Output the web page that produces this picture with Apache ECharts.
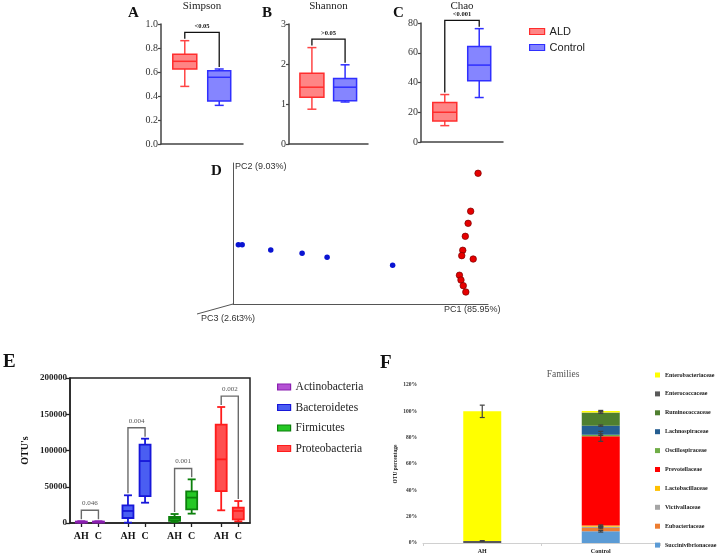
<!DOCTYPE html>
<html><head><meta charset="utf-8">
<script src="https://cdn.jsdelivr.net/npm/echarts@6/dist/echarts.min.js"></script>
<style>html,body{margin:0;padding:0;background:#fff}#c{width:721px;height:554px}</style>
</head><body><div id="c"></div>
<script>
// ---------- A-C alpha diversity: [min, Q1, median, Q3, max] ----------
const groups = ['ALD', 'Control'];
const simpsonALD = [0.48, 0.625, 0.689, 0.747, 0.861];
const simpsonControl = [0.322, 0.358, 0.556, 0.61, 0.625];
const shannonALD = [0.87, 1.17, 1.42, 1.77, 2.41];
const shannonControl = [1.05, 1.08, 1.42, 1.64, 1.98];
const chaoALD = [11, 14.2, 20, 26.5, 31.9];
const chaoControl = [29.9, 41.1, 51.7, 64.2, 76.2];
const alphaP = ['<0.05', '>0.05', '<0.001'];
const alphaTitles = ['Simpson', 'Shannon', 'Chao'];

// ---------- D PCoA ----------
const pcoaControl = [[2.1,42.1],[3.6,42.1],[14.8,38.3],[27.1,36.0],[36.9,33.1],[62.6,27.4]];
const pcoaALD = [[96.1,92.7],[93.2,65.8],[92.2,57.2],[91.1,48.0],[90.1,38.1],[89.7,34.3],[94.2,31.9],[88.8,20.4],[89.4,17.0],[90.3,13.0],[91.3,8.5]];
const pcLabels = ['PC1 (85.95%)', 'PC2 (9.03%)', 'PC3 (2.6t3%)'];

// ---------- E phyla OTUs: [min, Q1, median, Q3, max] ----------
const phyla = ['Actinobacteria','Bacteroidetes','Firmicutes','Proteobacteria'];
const phylumGroups = ['AH', 'C'];
const otuAH = [[500,1000,1500,2000,2500],[500,6900,16600,24400,38200],[1400,2800,6000,8300,12400],[17500,44100,87800,135600,160000]];
const otuC = [[800,1200,1600,2000,2400],[28000,37200,85500,108000,116300],[12900,18900,35000,43700,60200],[2300,5000,16600,21100,30300]];
const phylaP = ['0.046','0.004','0.001','0.002'];

// ---------- F families (stack order bottom -> top), percentages ----------
const famGroups = ['AH', 'Control'];
const families = ['Succinivibrionaceae','Eubacteriaceae','Victivallaceae','Lactobacillaceae','Prevotellaceae','Oscillospiraceae','Lachnospiraceae','Ruminococcaceae','Enterococcaceae','Enterobacteriaceae'];
const famAH = [0,0,0,0,0,0,0,0,1.5,98.5];
const famControl = [8.9,2.5,1.0,0.8,67.8,1.3,6.8,9.9,0.2,1.0];
const famErrAH = [0,0,0,0,0,0,0,0,0.3,4.7];
const famErrControl = [0.6,0.6,0.4,0.5,3.8,0.6,0.5,0.6,0,0.5];

// ---------- styling ----------
const SERIF = 'Liberation Serif', SANS = 'Liberation Sans';
const famColors = ['#5b9bd5','#ed7d31','#a5a5a5','#ffc000','#ff0000','#70ad47','#255e91','#4f7f2f','#595959','#ffff00'];
const groupStyle = {
  ALD: {stroke:'#ff2d2d', fill:'#ff8585', whisker:'#ff4545', boxW:24, capW:9, lw:1.5},
  Control: {stroke:'#2f2fff', fill:'#8585ff', whisker:'#2f2fff', boxW:23, capW:9, lw:1.5}
};
const phylaStyle = [
  {stroke:'#8a1fb0', fill:'#b452d4', whisker:'#8a1fb0', boxW:11, capW:8, lw:1.8},
  {stroke:'#1717d9', fill:'#4a5ef2', whisker:'#1717d9', boxW:11, capW:8, lw:1.8},
  {stroke:'#0c800c', fill:'#25c825', whisker:'#0c800c', boxW:11, capW:8, lw:1.8},
  {stroke:'#ff1c1c', fill:'#ff4f4f', whisker:'#ff1c1c', boxW:11, capW:8, lw:1.8}
];

function boxItem(st) {
  return function (params, api) {
    const x = api.value(0);
    const c = k => api.coord([x, api.value(k)]);
    const pMin = c(1), pQ1 = c(2), pMed = c(3), pQ3 = c(4), pMax = c(5);
    const cx = pMin[0], hw = st.boxW / 2, cw = st.capW / 2;
    const ws = {stroke: st.whisker, lineWidth: st.lw};
    return {type: 'group', children: [
      {type:'line', shape:{x1:cx,y1:pMax[1],x2:cx,y2:pQ3[1]}, style:ws},
      {type:'line', shape:{x1:cx,y1:pQ1[1],x2:cx,y2:pMin[1]}, style:ws},
      {type:'line', shape:{x1:cx-cw,y1:pMax[1],x2:cx+cw,y2:pMax[1]}, style:ws},
      {type:'line', shape:{x1:cx-cw,y1:pMin[1],x2:cx+cw,y2:pMin[1]}, style:ws},
      {type:'rect', shape:{x:cx-hw,y:pQ3[1],width:2*hw,height:Math.max(pQ1[1]-pQ3[1],1)}, style:{fill:st.fill, stroke:st.stroke, lineWidth:st.lw}},
      {type:'line', shape:{x1:cx-hw,y1:pMed[1],x2:cx+hw,y2:pMed[1]}, style:{stroke:st.stroke, lineWidth:st.lw}}
    ]};
  };
}
function bracketItem(labels, opt) {
  return function (params, api) {
    const x1 = api.value(0), x2 = api.value(1);
    const t1 = api.coord([x1, api.value(2)]), l = api.coord([x1, api.value(3)]);
    const t2 = api.coord([x2, api.value(2)]), r = api.coord([x2, api.value(4)]);
    return {type:'group', children:[
      {type:'polyline', shape:{points:[[l[0], l[1]-opt.pad],[t1[0],t1[1]],[t2[0],t2[1]],[r[0], r[1]-opt.pad]]}, style:{stroke:opt.color, lineWidth:opt.lw, fill:null}},
      {type:'text', x:(t1[0]+t2[0])/2, y:t1[1]-opt.dy, style:{text:labels[params.dataIndex], fill:opt.textColor, font:opt.font, align:'center', verticalAlign:'middle'}}
    ]};
  };
}

const grids = [], xAxes = [], yAxes = [], series = [], graphics = [];

// ----- A, B, C -----
const alphaData = [[simpsonALD, simpsonControl], [shannonALD, shannonControl], [chaoALD, chaoControl]];
const alphaAxis = [{max:1, interval:0.2, dec:1}, {max:3, interval:1, dec:0}, {max:80, interval:20, dec:0}];
const alphaGrid = [{left:161, top:24, width:82, height:120}, {left:289, top:24, width:79, height:120}, {left:421, top:23, width:82, height:119}];
const alphaLetters = ['A', 'B', 'C'], letterX = [128, 262, 393];
const boxPos = [0.29, 0.71];
alphaData.forEach((pair, i) => {
  const g = alphaGrid[i], ax = alphaAxis[i];
  grids.push(g);
  xAxes.push({gridIndex:i, type:'value', min:0, max:1, axisLine:{show:true, onZero:false, lineStyle:{color:'#444', width:1.5}}, axisTick:{show:false}, axisLabel:{show:false}, splitLine:{show:false}});
  yAxes.push({gridIndex:i, type:'value', min:0, max:ax.max, interval:ax.interval,
    axisLine:{show:true, lineStyle:{color:'#444', width:1.5}}, axisTick:{show:true, length:3, lineStyle:{color:'#444', width:1.2}},
    axisLabel:{formatter:v => v.toFixed(ax.dec), fontFamily:SERIF, fontSize:10, color:'#333', margin:3}, splitLine:{show:false}});
  groups.forEach((gname, k) => {
    series.push({type:'custom', name:gname, xAxisIndex:i, yAxisIndex:i, renderItem:boxItem(groupStyle[gname]),
      itemStyle:{color:groupStyle[gname].fill, borderColor:groupStyle[gname].stroke},
      encode:{x:0, y:[1,2,3,4,5]}, data:[[boxPos[k], ...pair[k]]], z:3});
  });
  const top = Math.max(pair[0][4], pair[1][4]) + 0.07 * ax.max;
  series.push({type:'custom', name:'bracket'+i, xAxisIndex:i, yAxisIndex:i,
    renderItem:bracketItem([alphaP[i]], {pad:2, color:'#111', lw:1.3, textColor:'#111', font:'bold 6.5px ' + SERIF, dy:6}),
    encode:{x:[0,1], y:[2,3,4]}, data:[[boxPos[0], boxPos[1], top, pair[0][4], pair[1][4]]], silent:true, z:4});
  graphics.push({type:'text', x:g.left + g.width/2, y:6, style:{text:alphaTitles[i], font:'11px ' + SERIF, fill:'#222', align:'center', verticalAlign:'middle'}});
  graphics.push({type:'text', x:letterX[i], y:13, style:{text:alphaLetters[i], font:'bold 15px ' + SERIF, fill:'#111', verticalAlign:'middle'}});
});

// ----- D -----
grids.push({left:233, top:163, width:255, height:141});
xAxes.push({gridIndex:3, type:'value', min:0, max:100, axisLine:{show:true, lineStyle:{color:'#555', width:1}}, axisTick:{show:false}, axisLabel:{show:false}, splitLine:{show:false}});
yAxes.push({gridIndex:3, type:'value', min:0, max:100, axisLine:{show:true, lineStyle:{color:'#555', width:1}}, axisTick:{show:false}, axisLabel:{show:false}, splitLine:{show:false}});
series.push({type:'scatter', name:'PCoA Control', xAxisIndex:3, yAxisIndex:3, data:pcoaControl, symbolSize:5.5, itemStyle:{color:'#0a14d2', opacity:1}});
series.push({type:'scatter', name:'PCoA ALD', xAxisIndex:3, yAxisIndex:3, data:pcoaALD, symbolSize:6.5, itemStyle:{color:'#e60000', borderColor:'#7a0000', borderWidth:0.7, opacity:1}});
graphics.push({type:'line', shape:{x1:233, y1:304, x2:197, y2:314}, style:{stroke:'#555', lineWidth:1}});
graphics.push({type:'text', x:235, y:167, style:{text:pcLabels[1], font:'9px ' + SANS, fill:'#333', verticalAlign:'middle'}});
graphics.push({type:'text', x:444, y:310, style:{text:pcLabels[0], font:'9px ' + SANS, fill:'#333', verticalAlign:'middle'}});
graphics.push({type:'text', x:201, y:319, style:{text:pcLabels[2], font:'9px ' + SANS, fill:'#333', verticalAlign:'middle'}});
graphics.push({type:'text', x:211, y:171, style:{text:'D', font:'bold 15px ' + SERIF, fill:'#111', verticalAlign:'middle'}});

// ----- E -----
const ePos = [];
phyla.forEach((p, i) => { const a = 0.063 + 0.259 * i; ePos.push(a, a + 0.095); });
grids.push({left:70, top:378, width:180, height:145, show:true, borderColor:'#222', borderWidth:1.5});
xAxes.push({gridIndex:4, type:'value', min:0, max:1,
  axisLine:{show:true, lineStyle:{color:'#222', width:1.5}},
  axisTick:{show:true, customValues:ePos, length:4, lineStyle:{color:'#222', width:1.3}},
  axisLabel:{show:true, customValues:ePos, fontFamily:SERIF, fontWeight:'bold', fontSize:10, color:'#111', margin:8,
    formatter:v => { let b = 0; ePos.forEach((p, j) => { if (Math.abs(p - v) < Math.abs(ePos[b] - v)) b = j; }); return phylumGroups[b % 2]; }},
  splitLine:{show:false}});
yAxes.push({gridIndex:4, type:'value', min:0, max:200000, interval:50000,
  name:"OTU's", nameLocation:'middle', nameGap:40, nameRotate:90, nameTextStyle:{fontFamily:SERIF, fontWeight:'bold', fontSize:10, color:'#111'},
  axisLine:{show:true, lineStyle:{color:'#222', width:1.5}}, axisTick:{show:true, length:4, lineStyle:{color:'#222', width:1.3}},
  axisLabel:{formatter:v => String(v), fontFamily:SERIF, fontWeight:'bold', fontSize:9, color:'#222', margin:3}, splitLine:{show:false}});
phyla.forEach((p, i) => {
  series.push({type:'custom', name:p, xAxisIndex:4, yAxisIndex:4, renderItem:boxItem(phylaStyle[i]),
    itemStyle:{color:phylaStyle[i].fill, borderColor:phylaStyle[i].stroke},
    encode:{x:0, y:[1,2,3,4,5]}, data:[[ePos[2*i], ...otuAH[i]], [ePos[2*i+1], ...otuC[i]]], z:3});
});
series.push({type:'custom', name:'bracketE', xAxisIndex:4, yAxisIndex:4,
  renderItem:bracketItem(phylaP, {pad:2, color:'#6a6a6a', lw:1.4, textColor:'#555', font:'7px ' + SERIF, dy:7}),
  encode:{x:[0,1], y:[2,3,4]}, silent:true, z:4,
  data:phyla.map((p, i) => [ePos[2*i], ePos[2*i+1], Math.max(otuAH[i][4], otuC[i][4]) + 15000, otuAH[i][4], otuC[i][4]])});
graphics.push({type:'text', x:3, y:362, style:{text:'E', font:'bold 19px ' + SERIF, fill:'#111', verticalAlign:'middle'}});

// ----- F -----
grids.push({left:423, top:385, width:237, height:159});
xAxes.push({gridIndex:5, type:'category', data:famGroups,
  axisLine:{show:true, lineStyle:{color:'#d0d0d0', width:1}}, axisTick:{show:true, length:3, lineStyle:{color:'#d0d0d0'}},
  axisLabel:{fontFamily:SERIF, fontWeight:'bold', fontSize:6, color:'#222', margin:5}});
yAxes.push({gridIndex:5, type:'value', min:0, max:120, interval:20,
  name:'OTU percentage', nameLocation:'middle', nameGap:24, nameRotate:90, nameTextStyle:{fontFamily:SERIF, fontWeight:'bold', fontSize:5.5, color:'#222'},
  axisLine:{show:false}, axisTick:{show:false}, splitLine:{show:false},
  axisLabel:{formatter:'{value}%', fontFamily:SERIF, fontWeight:'bold', fontSize:5.5, color:'#333', margin:6}});
families.forEach((f, i) => {
  series.push({type:'bar', name:f, xAxisIndex:5, yAxisIndex:5, stack:'fam', barWidth:38, data:[famAH[i], famControl[i]], itemStyle:{color:famColors[i]}});
});
const errData = [];
[famAH, famControl].forEach((vals, g) => {
  const errs = g === 0 ? famErrAH : famErrControl;
  let cum = 0;
  vals.forEach((v, i) => { cum += v; if (errs[i] > 0) errData.push([g, cum, errs[i]]); });
});
series.push({type:'custom', name:'errorF', xAxisIndex:5, yAxisIndex:5, silent:true, z:5, encode:{x:0, y:1},
  renderItem:(params, api) => {
    const g = api.value(0), v = api.value(1), e = api.value(2);
    const hi = api.coord([g, v + e]), lo = api.coord([g, v - e]);
    const s = {stroke:'#404040', lineWidth:1.2};
    return {type:'group', children:[
      {type:'line', shape:{x1:hi[0], y1:hi[1], x2:lo[0], y2:lo[1]}, style:s},
      {type:'line', shape:{x1:hi[0]-2.5, y1:hi[1], x2:hi[0]+2.5, y2:hi[1]}, style:s},
      {type:'line', shape:{x1:lo[0]-2.5, y1:lo[1], x2:lo[0]+2.5, y2:lo[1]}, style:s}
    ]};
  }, data:errData});
graphics.push({type:'text', x:563, y:374, style:{text:'Families', font:'9.5px ' + SERIF, fill:'#555', align:'center', verticalAlign:'middle'}});
graphics.push({type:'text', x:380, y:363, style:{text:'F', font:'bold 19px ' + SERIF, fill:'#111', verticalAlign:'middle'}});

const chart = echarts.init(document.getElementById('c'), null, {renderer:'canvas'});
chart.setOption({
  animation:false,
  backgroundColor:'#fff',
  grid:grids, xAxis:xAxes, yAxis:yAxes, series:series,
  legend:[
    {left:529, top:25, padding:0, orient:'vertical', itemWidth:15, itemHeight:6, itemGap:3, icon:'rect',
      textStyle:{fontFamily:SANS, fontSize:11, color:'#222', lineHeight:13},
      data:groups.map(g => ({name:g, itemStyle:{color:groupStyle[g].fill, borderColor:groupStyle[g].stroke, borderWidth:1.2}})), selectedMode:false},
    {left:277, top:380, padding:0, orient:'vertical', itemWidth:13, itemHeight:6, itemGap:6.5, icon:'rect',
      textStyle:{fontFamily:SERIF, fontSize:11.5, color:'#222', lineHeight:14},
      data:phyla.map((p, i) => ({name:p, itemStyle:{color:phylaStyle[i].fill, borderColor:phylaStyle[i].stroke, borderWidth:1.2}})), selectedMode:false},
    {left:655, top:371, padding:0, height:200, orient:'vertical', itemWidth:5, itemHeight:5, itemGap:10.9, icon:'rect',
      textStyle:{fontFamily:SERIF, fontWeight:'bold', fontSize:6, color:'#222', lineHeight:8},
      data:families.slice().reverse(), selectedMode:false}
  ],
  graphic:graphics
});
</script>
</body></html>
